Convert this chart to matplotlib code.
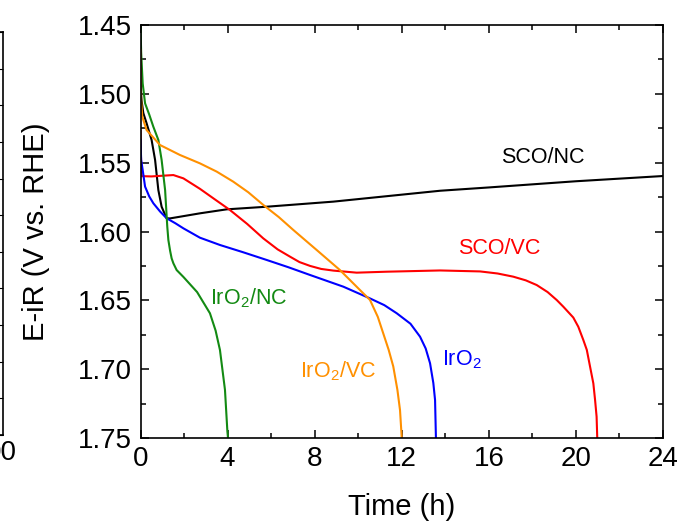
import numpy as np
import matplotlib
matplotlib.use("Agg")
import matplotlib.pyplot as plt
from matplotlib.ticker import MultipleLocator, FormatStrFormatter

plt.rcParams['font.family'] = ['Liberation Sans', 'DejaVu Sans']
plt.rcParams['mathtext.fontset'] = 'custom'
plt.rcParams['mathtext.rm'] = 'Liberation Sans'
plt.rcParams['mathtext.default'] = 'regular'

# data (time in h, E-iR in V)
t_sco_nc = [0, 0.05, 0.13, 0.28, 0.51, 0.67, 0.82, 0.97, 1.2, 1.35, 1.8, 2.73, 3.96, 5.8, 8.86, 13.76,
            16, 20, 24]
v_sco_nc = [1.494, 1.505, 1.514, 1.5214, 1.5335, 1.548, 1.5699, 1.582, 1.5904, 1.5905, 1.5893, 1.5868,
            1.5839, 1.582, 1.5783, 1.5704, 1.568, 1.5635, 1.5597]

t_sco_vc = [0, 0.02, 0.05, 0.5, 1.0, 1.51, 1.97, 2.73, 3.4, 4.11, 4.9, 5.64, 6.3, 6.87, 7.3, 7.79, 8.3,
            8.86, 9.93, 11.31, 13.76, 15.6, 16.4, 17.12, 17.7, 18.2, 18.7, 19.12, 19.42, 19.88, 20.11,
            20.34, 20.5, 20.65, 20.8, 20.88, 20.95, 20.98]
v_sco_vc = [1.527, 1.545, 1.5598, 1.5600, 1.5595, 1.5590, 1.5614, 1.5690, 1.5765, 1.5844, 1.5945, 1.605,
            1.6130, 1.6183, 1.6222, 1.6250, 1.6272, 1.6284, 1.6299, 1.6292, 1.6283, 1.6290, 1.6305,
            1.6328, 1.6355, 1.6389, 1.6440, 1.6498, 1.6546, 1.6625, 1.6692, 1.6788, 1.686, 1.6982,
            1.7103, 1.7224, 1.7345, 1.75]

t_iro2 = [0, 0.03, 0.1, 0.21, 0.4, 0.59, 0.9, 1.2, 1.6, 1.97, 2.73, 3.65, 4.7, 5.8, 6.8, 7.79, 9.32,
          10.54, 11.2, 11.77, 12.4, 12.84, 13.1, 13.3, 13.45, 13.53, 13.57]
v_iro2 = [1.5335, 1.548, 1.5553, 1.5674, 1.5745, 1.5795, 1.5855, 1.5904, 1.594, 1.5977, 1.6045, 1.6098,
          1.6150, 1.6207, 1.6260, 1.6316, 1.6401, 1.6486, 1.6535, 1.6594, 1.667, 1.6764, 1.685, 1.6957,
          1.710, 1.7224, 1.75]

t_iro2_nc = [0, 0.03, 0.1, 0.21, 0.4, 0.59, 0.82, 0.97, 1.13, 1.23, 1.28, 1.36, 1.43, 1.51, 1.66, 1.97,
             2.6, 3.19, 3.45, 3.65, 3.88, 3.99, 4.02]
v_iro2_nc = [1.45, 1.47, 1.4924, 1.5069, 1.515, 1.5239, 1.5335, 1.548, 1.5699, 1.5965, 1.6062, 1.6140,
             1.6195, 1.6231, 1.628, 1.633, 1.644, 1.6594, 1.672, 1.6861, 1.715, 1.745, 1.75]

t_iro2_vc = [0, 0.01, 0.03, 0.08, 0.28, 0.9, 1.81, 2.73, 3.5, 4.26, 4.95, 5.64, 6.35, 7.02, 8.09, 9.16,
             10.08, 10.54, 10.9, 11.15, 11.4, 11.61, 11.8, 11.92, 12.0]
v_iro2_vc = [1.468, 1.49, 1.505, 1.5166, 1.5263, 1.5372, 1.5444, 1.5505, 1.5565, 1.5638, 1.5715, 1.5807,
             1.5895, 1.5989, 1.6134, 1.628, 1.6425, 1.6497, 1.662, 1.674, 1.686, 1.698, 1.715, 1.7297, 1.75]

W, H = 677, 522
fig = plt.figure(figsize=(W / 100, H / 100), dpi=100)

# edge of the neighbouring panel, cut off at the left
ax0 = fig.add_axes([-200 / W, 1 - 435 / H, 203 / W, 403 / H])
ax0.set_xlim(0, 1)
ax0.set_ylim(0, 11)
ax0.set_yticks(np.arange(0, 12))
ax0.set_xticks([])
ax0.tick_params(axis='y', which='both', direction='in', right=True, left=False, labelleft=False, length=4)
for s in ax0.spines.values():
    s.set_linewidth(1.2)
fig.text(17 / W, 1 - 453 / H, '00', fontsize=20, ha='right', va='center')

ax = fig.add_axes([140.5 / W, 1 - 438 / H, (663 - 140.5) / W, (438 - 25) / H])
lw = 1.5
ax.plot(t_sco_nc, v_sco_nc, color='black', lw=lw)
ax.plot(t_sco_vc, v_sco_vc, color='#ff0000', lw=lw)
ax.plot(t_iro2, v_iro2, color='#0000ff', lw=lw)
ax.plot(t_iro2_nc, v_iro2_nc, color='#138a13', lw=lw)
ax.plot(t_iro2_vc, v_iro2_vc, color='#ff9000', lw=lw)

ax.set_xlim(0, 24)
ax.set_ylim(1.75, 1.45)
ax.xaxis.set_major_locator(MultipleLocator(4))
ax.xaxis.set_minor_locator(MultipleLocator(2))
ax.yaxis.set_major_locator(MultipleLocator(0.05))
ax.yaxis.set_minor_locator(MultipleLocator(0.025))
ax.yaxis.set_major_formatter(FormatStrFormatter('%.2f'))
ax.tick_params(which='both', direction='in', top=True, right=True, labelsize=20, width=1.1)
ax.tick_params(which='major', length=6, pad=6)
ax.tick_params(which='minor', length=3.5)
for s in ax.spines.values():
    s.set_linewidth(1.2)

ax.set_xlabel('Time (h)', fontsize=21, labelpad=15)
ax.set_ylabel('E-iR (V vs. RHE)', fontsize=21, labelpad=20)

fs = 15.5
ax.text(18.49, 1.5459, 'SCO/NC', color='black', fontsize=fs, ha='center', va='center')
ax.text(16.47, 1.6122, 'SCO/VC', color='#ff0000', fontsize=fs, ha='center', va='center')
ax.text(14.75, 1.6933, 'IrO$_2$', color='#0000ff', fontsize=fs, ha='center', va='center')
ax.text(4.95, 1.6485, 'IrO$_2$/NC', color='#138a13', fontsize=fs, ha='center', va='center')
ax.text(9.09, 1.7018, 'IrO$_2$/VC', color='#ff9000', fontsize=fs, ha='center', va='center')

fig.savefig('out.png', dpi=100)
